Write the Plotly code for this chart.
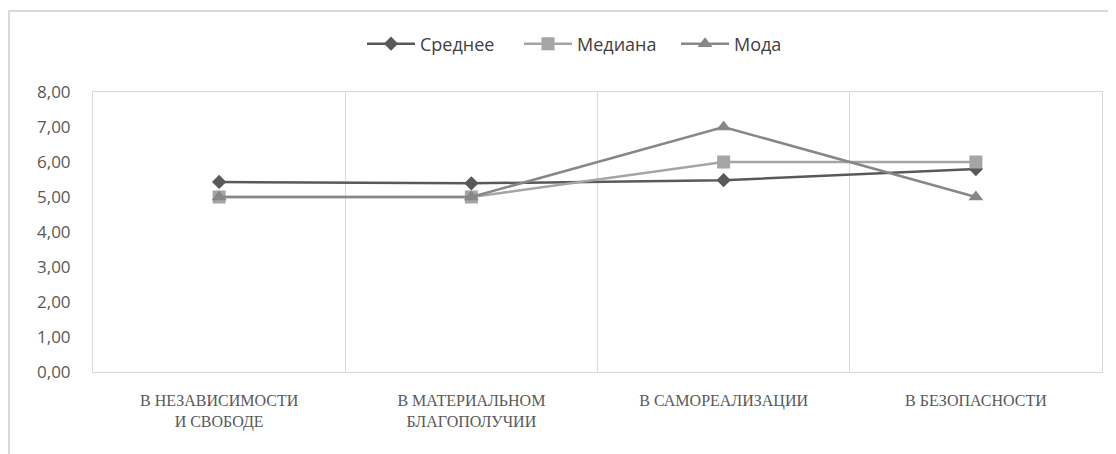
import plotly.graph_objects as go

categories = ["В НЕЗАВИСИМОСТИ<br>И СВОБОДЕ", "В МАТЕРИАЛЬНОМ<br>БЛАГОПОЛУЧИИ",
              "В САМОРЕАЛИЗАЦИИ", "В БЕЗОПАСНОСТИ"]
mean_vals = [5.43, 5.39, 5.48, 5.80]
median_vals = [5, 5, 6, 6]
mode_vals = [5, 5, 7, 5]
y_ticks = [0, 1, 2, 3, 4, 5, 6, 7, 8]

# page has an 8px body margin, so the figure is drawn 8px smaller and offset
OFF = 8
W, H = 1116 - OFF, 454 - OFF
L, R, T, B = 93 - OFF, 14, 92 - OFF, 82
pw, ph = W - L - R, H - T - B

fig = go.Figure()
fig.add_trace(go.Scatter(x=categories, y=mean_vals, name="Среднее", mode="lines+markers",
                         line=dict(color="#595959", width=2.5),
                         marker=dict(symbol="diamond", size=11, color="#595959")))
fig.add_trace(go.Scatter(x=categories, y=median_vals, name="Медиана", mode="lines+markers",
                         line=dict(color="#A5A5A5", width=2.5),
                         marker=dict(symbol="square", size=13, color="#A5A5A5")))
fig.add_trace(go.Scatter(x=categories, y=mode_vals, name="Мода", mode="lines+markers",
                         line=dict(color="#878787", width=2.5),
                         marker=dict(symbol="triangle-up", size=13, color="#878787")))

# outer chart border (partially cropped at right/bottom)
bx, by = 9 - OFF, 11 - OFF
fig.add_shape(type="rect", xref="paper", yref="paper",
              x0=(bx - L) / pw, x1=(W + 20 - L) / pw,
              y0=-(H + 20 - T - ph) / ph, y1=(T + ph - by) / ph,
              line=dict(color="#D9D9D9", width=2), fillcolor="rgba(0,0,0,0)", layer="below")

fig.update_layout(
    width=W, height=H,
    margin=dict(l=L, r=R, t=T, b=B, autoexpand=False),
    paper_bgcolor="white", plot_bgcolor="white",
    separators=", ",
    font=dict(family="Open Sans, Noto Sans, sans-serif", color="#595959", size=16),
    legend=dict(orientation="h", x=0.5, xanchor="center",
                y=(T + ph - (44 - OFF)) / ph, yanchor="middle",
                font=dict(size=18, color="#404040"), itemwidth=48,
                entrywidth=94, entrywidthmode="pixels", traceorder="normal"),
    showlegend=True,
)
fig.update_xaxes(type="category", tickson="boundaries", showgrid=True, gridcolor="#D9D9D9",
                 gridwidth=1, showline=True, linecolor="#D9D9D9", mirror=True, ticks="",
                 tickfont=dict(family="Liberation Serif, Times New Roman, serif", size=16,
                               color="#595959"),
                 ticklabelstandoff=14, zeroline=False, range=[-0.5, 3.5], automargin=False)
fig.update_yaxes(range=[0, 8], tickvals=y_ticks, tickformat=".2f", showgrid=False,
                 showline=True, linecolor="#D9D9D9", mirror=True, ticks="", zeroline=False,
                 tickfont=dict(size=17, color="#595959"), ticklabelstandoff=18, automargin=False)

fig.write_html("out.html")
